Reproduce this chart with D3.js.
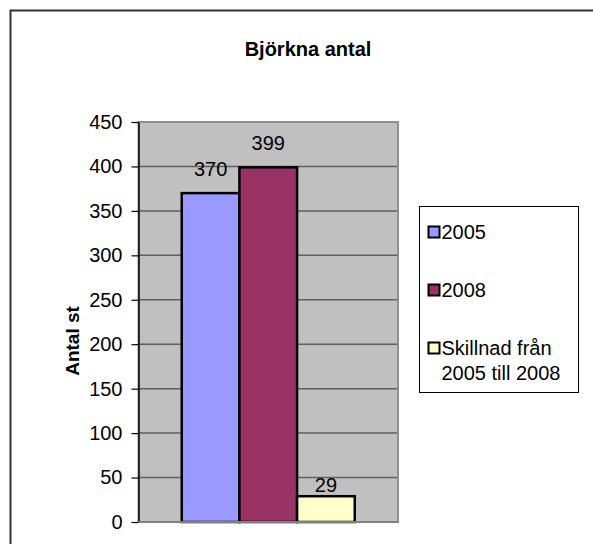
<!DOCTYPE html>
<html>
<head>
<meta charset="utf-8">
<script src="https://cdn.jsdelivr.net/npm/d3@7"></script>
<style>
  html, body { margin: 0; padding: 0; background: #fff; }
  svg { display: block; font-family: "Liberation Sans", Arial, sans-serif; }
</style>
</head>
<body>
<div id="chart"></div>
<script>
// data
const CATEGORY = "Björkna";
const SERIES = ["2005", "2008", "Skillnad från 2005 till 2008"];
const SERIES_KEYS = ["y2005", "y2008", "diff"];
const VALUES = [370, 399, 29];
const Y_TICKS = [0, 50, 100, 150, 200, 250, 300, 350, 400, 450];
const COLOURS = ["#9999ff", "#993366", "#ffffcc"];

const width = 593, height = 544;
const margin = { top: 122, right: 195, bottom: 22, left: 138.5 };
const innerWidth = width - margin.left - margin.right;
const innerHeight = height - margin.top - margin.bottom;

const svg = d3.select("#chart").append("svg")
  .attr("width", width)
  .attr("height", height);

// outer chart frame (runs off the right/bottom edge)
svg.append("rect")
  .attr("x", 10.5).attr("y", 10.5)
  .attr("width", 620).attr("height", 600)
  .attr("fill", "none")
  .attr("stroke", "#333")
  .attr("stroke-width", 2);

// title
svg.append("text")
  .attr("x", 308)
  .attr("y", 56)
  .attr("text-anchor", "middle")
  .attr("font-size", 20)
  .attr("font-weight", "bold")
  .text("Björkna antal");

const g = svg.append("g")
  .attr("transform", `translate(${margin.left},${margin.top})`);

const data = SERIES.map((s, i) => ({ key: SERIES_KEYS[i], label: s, value: VALUES[i], colour: COLOURS[i] }));

const y = d3.scaleLinear().domain([0, 450]).range([innerHeight, 0]);

const x0 = d3.scaleBand()
  .domain([CATEGORY])
  .range([0, innerWidth])
  .paddingInner(1 / 3)
  .paddingOuter(1 / 6);

const x1 = d3.scaleBand()
  .domain(SERIES_KEYS)
  .range([0, x0.bandwidth()]);

// plot background
g.append("rect")
  .attr("width", innerWidth)
  .attr("height", innerHeight)
  .attr("fill", "#c0c0c0");

// gridlines
g.append("g")
  .selectAll("line")
  .data(Y_TICKS.filter(t => t > 0 && t < 450))
  .enter().append("line")
  .attr("x1", 0).attr("x2", innerWidth)
  .attr("y1", d => y(d)).attr("y2", d => y(d))
  .attr("stroke", "#5f5f5f")
  .attr("stroke-width", 1.5);

// plot border
g.append("rect")
  .attr("width", innerWidth)
  .attr("height", innerHeight)
  .attr("fill", "none")
  .attr("stroke", "#909090")
  .attr("stroke-width", 2);

// bars
const groupG = g.append("g")
  .attr("transform", `translate(${x0(CATEGORY)},0)`);

groupG.selectAll("rect.bar")
  .data(data)
  .enter().append("rect")
  .attr("class", "bar")
  .attr("x", d => x1(d.key))
  .attr("width", x1.bandwidth())
  .attr("y", d => y(d.value))
  .attr("height", d => innerHeight - y(d.value))
  .attr("fill", d => d.colour)
  .attr("stroke", "#000")
  .attr("stroke-width", 2.5);

// value labels
groupG.selectAll("text.bar-label")
  .data(data)
  .enter().append("text")
  .attr("class", "bar-label")
  .attr("text-anchor", "middle")
  .attr("x", d => x1(d.key) + x1.bandwidth() / 2)
  .attr("y", d => y(d.value) - (d.key === "diff" ? 4 : 17))
  .attr("font-size", 20)
  .text(d => d.value);

// y axis
const yAxis = g.append("g")
  .call(d3.axisLeft(y).tickValues(Y_TICKS).tickSize(7).tickPadding(9).tickSizeOuter(0));

yAxis.select(".domain").attr("stroke", "#000").attr("stroke-width", 1.5);
yAxis.selectAll(".tick line").attr("stroke", "#000").attr("stroke-width", 1.2);
yAxis.selectAll(".tick text")
  .attr("font-size", 20)
  .attr("font-family", "Liberation Sans, Arial, sans-serif")
  .attr("fill", "#000");

// x axis baseline
g.append("line")
  .attr("x1", 0).attr("x2", innerWidth)
  .attr("y1", innerHeight).attr("y2", innerHeight)
  .attr("stroke", "#808080")
  .attr("stroke-width", 2);

// y axis title
svg.append("text")
  .attr("transform", `translate(79,341) rotate(-90)`)
  .attr("text-anchor", "middle")
  .attr("font-size", 19)
  .attr("font-weight", "bold")
  .text("Antal st");

// legend
const legend = svg.append("g")
  .attr("transform", "translate(419.5,206.5)");

legend.append("rect")
  .attr("width", 159)
  .attr("height", 186)
  .attr("fill", "#fff")
  .attr("stroke", "#000")
  .attr("stroke-width", 1);

const items = legend.selectAll(".legend-item")
  .data(data)
  .enter().append("g")
  .attr("class", "legend-item")
  .attr("transform", (d, i) => `translate(9,${20 + i * 58})`);

items.append("rect")
  .attr("width", 11)
  .attr("height", 11)
  .attr("fill", d => d.colour)
  .attr("stroke", "#000")
  .attr("stroke-width", 2);

items.append("text")
  .attr("x", 13)
  .attr("y", 12.5)
  .attr("font-size", 20)
  .each(function (d) {
    const words = d.label.split(" ");
    const t = d3.select(this);
    if (words.length > 2) {
      t.append("tspan").attr("x", 13).text(words.slice(0, 2).join(" "));
      t.append("tspan").attr("x", 13).attr("dy", 25).text(words.slice(2).join(" "));
    } else {
      t.text(d.label);
    }
  });
</script>
</body>
</html>
